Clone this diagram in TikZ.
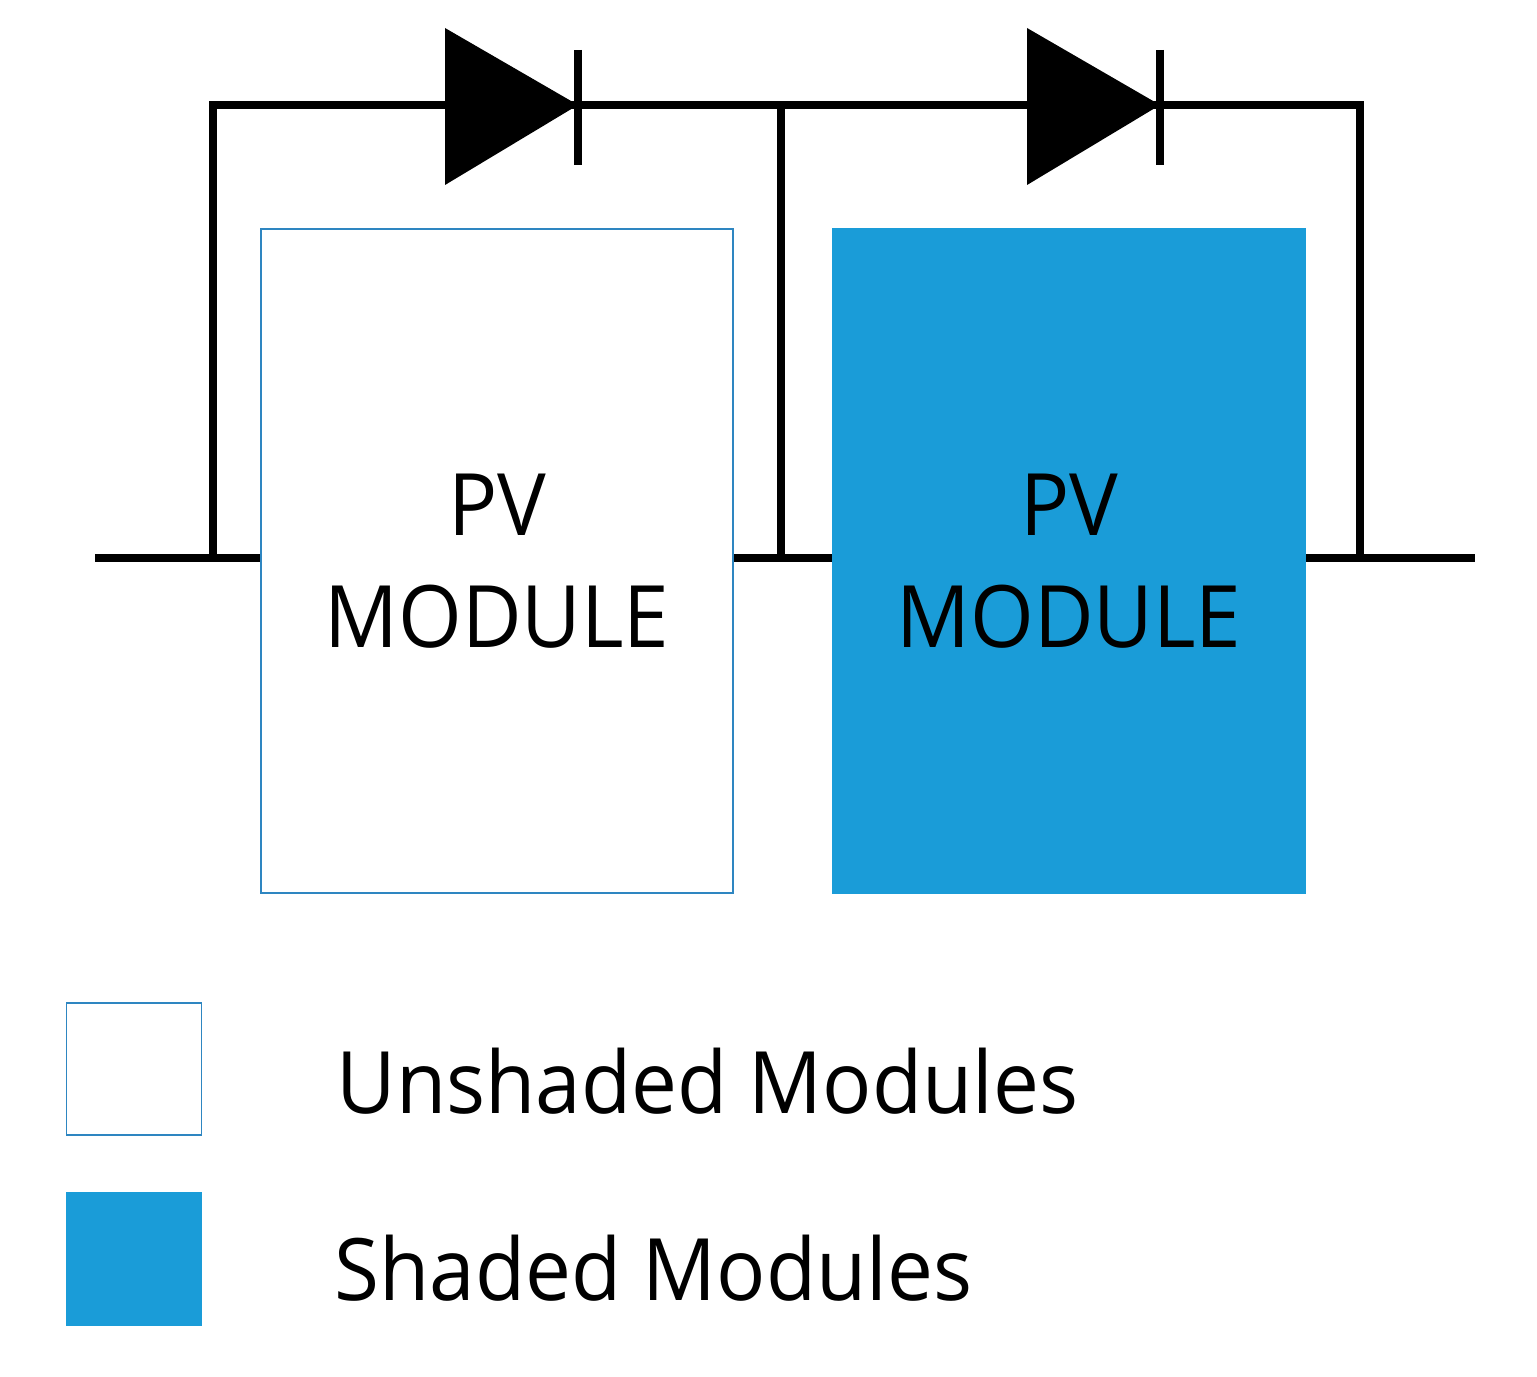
\documentclass[tikz,border=0pt]{standalone}
\usepackage{fontspec}
\setmainfont{Open Sans}[FakeStretch=0.95]
\definecolor{pvblue}{HTML}{1A9CD8}
\definecolor{edgeblue}{HTML}{2E86C1}
\begin{document}
\begin{tikzpicture}[x=0.01cm,y=-0.01cm,
  wire/.style={line width=2.3pt},
  module/.style={draw=edgeblue,line width=0.5pt,minimum width=4.71cm,minimum height=6.63cm,align=center,font=\fontsize{24.5}{30}\selectfont,inner sep=0pt},
  legbox/.style={draw=edgeblue,line width=0.5pt,minimum width=1.35cm,minimum height=1.32cm,inner sep=0pt},
  legtext/.style={anchor=base west,font=\fontsize{24.5}{30}\selectfont,inner sep=0pt}]
\useasboundingbox (0,0) rectangle (1537,1376);
% wires
\coordinate (L) at (95,558); \coordinate (R) at (1475,558);
\coordinate (a1) at (213,558); \coordinate (a2) at (213,105);
\coordinate (b1) at (781,558); \coordinate (b2) at (781,105);
\coordinate (c1) at (1360,558); \coordinate (c2) at (1360,105);
\draw[wire] (L) -- (R);
\draw[wire] (a1) -- (a2) -- (c2) -- (c1);
\draw[wire] (b2) -- (b1);
% diodes
\fill (445,28) -- (578,105) -- (445,185) -- cycle;
\draw[wire] (578,50) -- (578,165);
\fill (1027,28) -- (1160,105) -- (1027,185) -- cycle;
\draw[wire] (1160,50) -- (1160,165);
% modules
\node[module,fill=white] (m1) at (497,561) {PV\\[2pt]MODULE};
\node[module,fill=pvblue,draw=pvblue] (m2) at (1069,561) {PV\\[2pt]MODULE};
% legend
\node[legbox,fill=white] (k1) at (134,1069) {};
\node[legbox,fill=pvblue,draw=pvblue] (k2) at (134,1259) {};
\node[legtext] (t1) at (336,1113) {Unshaded Modules};
\node[legtext] (t2) at (334,1300) {Shaded Modules};
\end{tikzpicture}
\end{document}
